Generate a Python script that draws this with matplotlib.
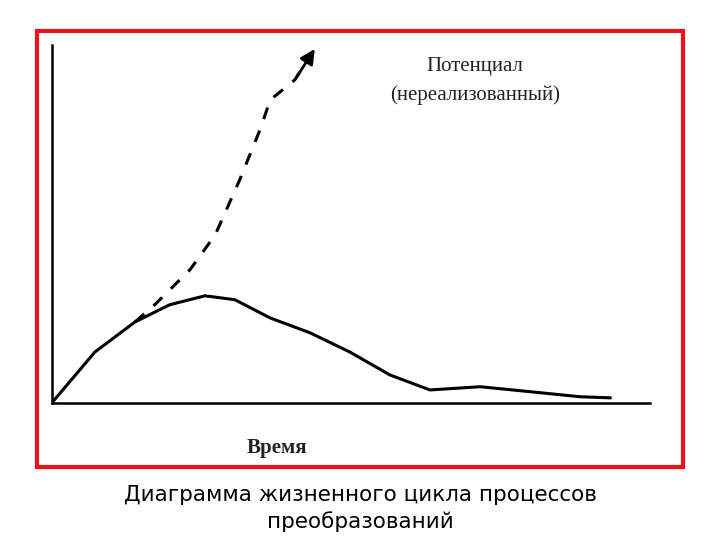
import matplotlib
matplotlib.use("Agg")
import matplotlib.pyplot as plt
from matplotlib.patches import Rectangle

actual_x = [0, 7.2, 13.9, 19.7, 25.6, 30.6, 36.5, 43.1, 49.8, 56.5, 63.2, 71.6, 80.0, 88.3, 93.3]
actual_y = [0, 14.2, 22.6, 27.4, 29.9, 28.8, 23.7, 19.6, 14.2, 7.8, 3.6, 4.5, 3.1, 1.7, 1.4]
potential_x = [13.9, 17.2, 23.1, 27.3, 31.4, 34.8, 36.5, 40.6, 43.6]
potential_y = [22.6, 27.4, 37.2, 46.9, 62.3, 76.3, 84.6, 90.2, 98.0]

fig = plt.figure(figsize=(7.2, 5.4), dpi=100)
fig.patches.append(Rectangle((0.051, 0.135), 0.897, 0.807, transform=fig.transFigure,
                             fill=False, edgecolor='#e8141b', linewidth=3))
ax = fig.add_axes([0.072, 0.254, 0.831, 0.663])
ax.set_xlim(0, 100); ax.set_ylim(0, 100)
for s in ['top', 'right']:
    ax.spines[s].set_visible(False)
for s in ['left', 'bottom']:
    ax.spines[s].set_linewidth(1.8)
ax.set_xticks([]); ax.set_yticks([])
ax.plot(actual_x, actual_y, color='black', lw=2.2)
ax.plot(potential_x, potential_y, color='black', lw=2.2, dashes=(4, 4))
ax.annotate('', xy=(potential_x[-1] + 0.6, potential_y[-1] + 1.5), xytext=(potential_x[-2], potential_y[-2]),
            arrowprops=dict(arrowstyle='-|>', color='black', lw=2, mutation_scale=22))
fig.text(0.66, 0.876, 'Потенциал', family='Liberation Serif', fontsize=15, ha='center', va='center', color='#222')
fig.text(0.66, 0.824, '(нереализованный)', family='Liberation Serif', fontsize=15, ha='center', va='center', color='#222')
fig.text(0.385, 0.170, 'Время', family='Liberation Serif', fontsize=15, fontweight='bold', ha='center', va='center', color='#222')
fig.text(0.5, 0.058, 'Диаграмма жизненного цикла процессов\nпреобразований', fontsize=15.5,
         ha='center', va='center', linespacing=1.4)
fig.savefig('out.png')
